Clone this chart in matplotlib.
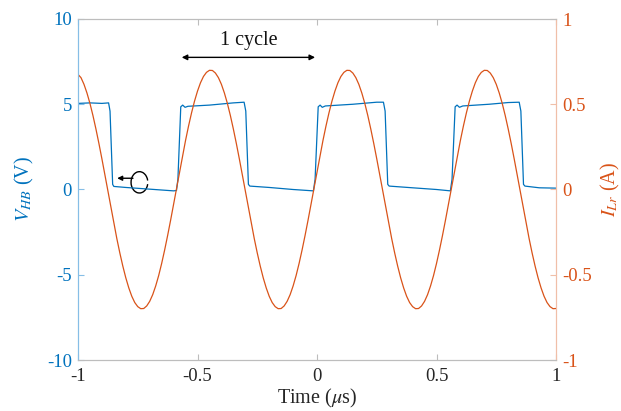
import numpy as np
import matplotlib
matplotlib.use("Agg")
import matplotlib.pyplot as plt
from matplotlib.patches import Arc

plt.rcParams['font.family'] = ['Liberation Serif', 'DejaVu Serif']
plt.rcParams['mathtext.fontset'] = 'stix'
plt.rcParams['axes.unicode_minus'] = False

# ---- data ----
# half-bridge voltage V_HB (V): breakpoints of the measured square wave
v_time = [-1.00, -0.95, -0.90, -0.872, -0.866, -0.855, -0.850, -0.80, -0.70, -0.60,
          -0.588, -0.582, -0.570, -0.562, -0.552, -0.540, -0.45, -0.35, -0.305, -0.298,
          -0.287, -0.281, -0.20, -0.10, -0.015, -0.008, 0.005, 0.013, 0.022, 0.035,
          0.15, 0.25, 0.278, 0.285, 0.296, 0.302, 0.40, 0.50, 0.558, 0.565,
          0.578, 0.586, 0.596, 0.61, 0.72, 0.80, 0.846, 0.853, 0.864, 0.870,
          0.93, 1.00]
v_hb = [5.05, 5.08, 5.05, 5.08, 4.6, 0.3, 0.18, 0.12, 0.02, -0.08,
        -0.06, 0.6, 4.85, 4.95, 4.82, 4.88, 4.95, 5.08, 5.12, 4.6,
        0.3, 0.2, 0.12, 0.0, -0.08, 0.6, 4.85, 4.95, 4.82, 4.9,
        5.0, 5.12, 5.12, 4.6, 0.3, 0.2, 0.1, 0.0, -0.08, 0.6,
        4.85, 4.95, 4.82, 4.9, 5.0, 5.1, 5.12, 4.6, 0.3, 0.2,
        0.1, 0.08]

# resonant current (A), sampled every 0.0125 us from -1 to 1 us
i_time = np.linspace(-1.0, 1.0, 161)
i_res = [
    0.675, 0.656, 0.617, 0.566, 0.505, 0.434, 0.355, 0.270, 0.180, 0.086,
    -0.010, -0.105, -0.198, -0.288, -0.372, -0.449, -0.518, -0.577, -0.626, -0.663,
    -0.687, -0.699, -0.698, -0.683, -0.656, -0.617, -0.566, -0.505, -0.434, -0.355,
    -0.270, -0.180, -0.086, 0.010, 0.105, 0.198, 0.288, 0.372, 0.449, 0.518,
    0.577, 0.626, 0.663, 0.687, 0.699, 0.698,
    0.683, 0.656, 0.617, 0.566, 0.505, 0.434, 0.355, 0.270, 0.180, 0.086,
    -0.010, -0.105, -0.198, -0.288, -0.372, -0.449, -0.518, -0.577, -0.626, -0.663,
    -0.687, -0.699, -0.698, -0.683, -0.656, -0.617, -0.566, -0.505, -0.434, -0.355,
    -0.270, -0.180, -0.086, 0.010, 0.105, 0.198, 0.288, 0.372, 0.449, 0.518,
    0.577, 0.626, 0.663, 0.687, 0.699, 0.698,
    0.683, 0.656, 0.617, 0.566, 0.505, 0.434, 0.355, 0.270, 0.180, 0.086,
    -0.010, -0.105, -0.198, -0.288, -0.372, -0.449, -0.518, -0.577, -0.626, -0.663,
    -0.687, -0.699, -0.698, -0.683, -0.656, -0.617, -0.566, -0.505, -0.434, -0.355,
    -0.270, -0.180, -0.086, 0.010, 0.105, 0.198, 0.288, 0.372, 0.449, 0.518,
    0.577, 0.626, 0.663, 0.687, 0.699, 0.698,
    0.683, 0.656, 0.617, 0.566, 0.505, 0.434, 0.355, 0.270, 0.180, 0.086,
    -0.010, -0.105, -0.198, -0.288, -0.372, -0.449, -0.518, -0.577, -0.626, -0.663,
    -0.687, -0.699, -0.698]

x_ticks = [-1, -0.5, 0, 0.5, 1]
x_ticklabels = ['-1', '-0.5', '0', '0.5', '1']
yl_ticks = [-10, -5, 0, 5, 10]
yl_ticklabels = ['-10', '-5', '0', '5', '10']
yr_ticks = [-1, -0.5, 0, 0.5, 1]
yr_ticklabels = ['-1', '-0.5', '0', '0.5', '1']

BLUE = '#0072BD'
ORANGE = '#D95319'
BLUE_SP = '#86BEE6'
ORANGE_SP = '#F0BFA8'
GRAY = '#BDBDBD'
FS = 13.5

fig = plt.figure(figsize=(6.21, 4.11), dpi=100)
ax = fig.add_axes([78/621, 1-360/411, (556-78)/621, (360-19)/411])
ax2 = ax.twinx()

ax.plot(v_time, v_hb, color=BLUE, lw=0.9)
ax2.plot(i_time, i_res, color=ORANGE, lw=0.9)

ax.set_xlim(-1, 1)
ax.set_ylim(-10, 10)
ax2.set_ylim(-1, 1)

ax.set_xticks(x_ticks)
ax.set_xticklabels(x_ticklabels, fontsize=FS, color='#262626')
ax.set_yticks(yl_ticks)
ax.set_yticklabels(yl_ticklabels, fontsize=FS, color=BLUE)
ax2.set_yticks(yr_ticks)
ax2.set_yticklabels(yr_ticklabels, fontsize=FS, color=ORANGE)

ax.tick_params(axis='x', direction='in', top=True, bottom=True, length=4,
               color=GRAY, width=0.8, pad=6)
ax.tick_params(axis='y', direction='in', left=True, right=False, length=4,
               color=BLUE_SP, width=0.8, pad=4.5)
ax2.tick_params(axis='y', direction='in', right=True, left=False, length=4,
                color=ORANGE_SP, width=0.8, pad=4.5)

for a in (ax, ax2):
    a.spines['top'].set_color(GRAY)
    a.spines['bottom'].set_color(GRAY)
    a.spines['left'].set_color(BLUE_SP)
    a.spines['right'].set_color(ORANGE_SP)
    for s in a.spines.values():
        s.set_linewidth(0.8)

ax.set_xlabel(r'Time ($\mu$s)', fontsize=14.5, color='#262626', labelpad=1.5)
ax.set_ylabel(r'$V_{HB}$ (V)', fontsize=14.5, color=BLUE)
ax.yaxis.set_label_coords(-0.088, 0.5)
ax2.set_ylabel(r'$I_{Lr}$ (A)', fontsize=14.5, color=ORANGE)
ax2.yaxis.set_label_coords(1.090, 0.5)

# "1 cycle" annotation
ax.annotate('', xy=(-0.008, 7.75), xytext=(-0.566, 7.75),
            arrowprops=dict(arrowstyle='<|-|>', color='black', lw=1.0,
                            mutation_scale=8, shrinkA=0, shrinkB=0))
ax.text(-0.287, 8.75, '1 cycle', fontsize=14.5, ha='center', va='center', color='#111111')

# rotation marker pointing to the left axis
ax.add_patch(Arc((-0.743, 0.42), 0.07, 1.25, theta1=72, theta2=288,
                 color='black', lw=1.0))
ax.annotate('', xy=(-0.836, 0.66), xytext=(-0.770, 0.66),
            arrowprops=dict(arrowstyle='-|>', color='black', lw=1.0,
                            mutation_scale=7, shrinkA=0, shrinkB=0))

fig.savefig('out.png', dpi=100)
